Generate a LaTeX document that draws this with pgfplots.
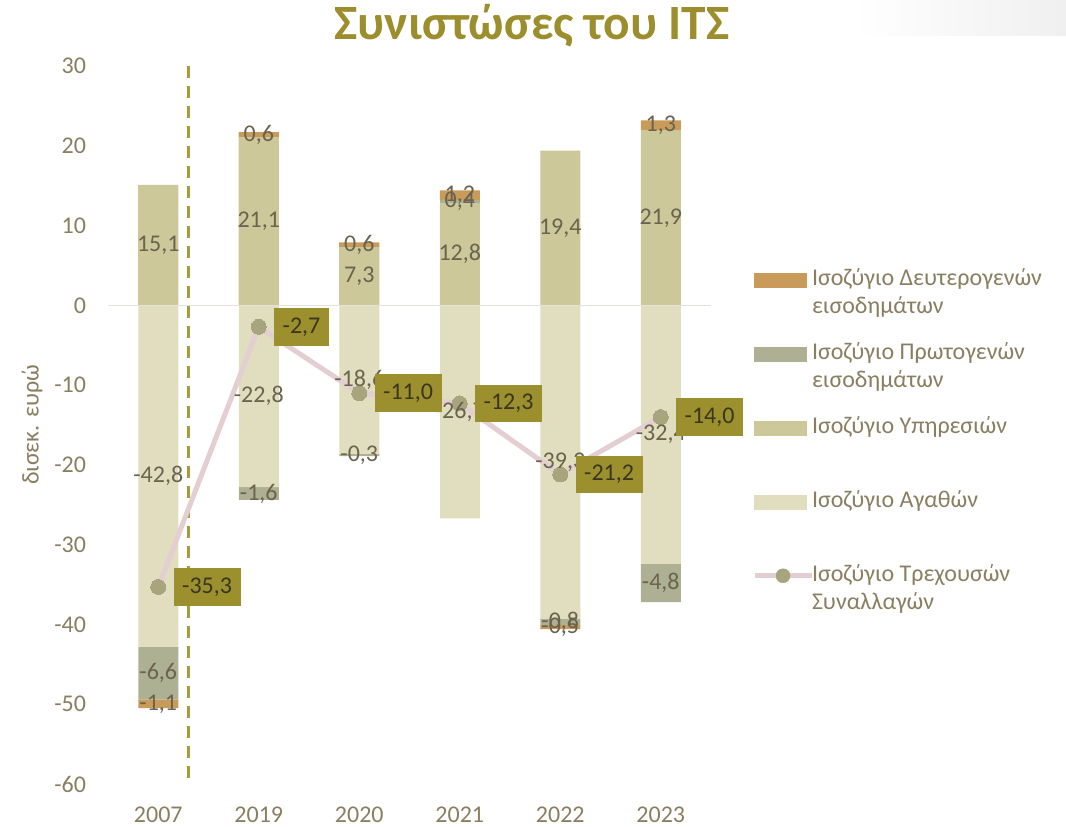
\documentclass[border=0pt]{standalone}
\usepackage{fontspec}
\setmainfont{Carlito}
\usepackage{pgfplots}
\pgfplotsset{compat=1.18}
\definecolor{secondary}{HTML}{C89B5B}
\definecolor{primary}{HTML}{ADB093}
\definecolor{services}{HTML}{CCC899}
\definecolor{goods}{HTML}{E1DDBF}
\definecolor{linepink}{HTML}{E3CED2}
\definecolor{markercol}{HTML}{A8A47E}
\definecolor{boxcol}{HTML}{9C8F2E}
\definecolor{boxtext}{HTML}{3A3620}
\definecolor{labeltext}{HTML}{6A644F}
\definecolor{ticktext}{HTML}{8A7E60}
\definecolor{titlecol}{HTML}{9C8E2C}
\definecolor{dashcol}{HTML}{A59B3A}
\definecolor{zerocol}{HTML}{E4E2DB}
\newcommand{\lfont}{\fontsize{18}{20.5}\selectfont}
\pgfplotsset{base/.style={
  scale only axis, width=452.25pt, height=538.5pt,
  xmin=-0.5, xmax=5.5, ymin=-60, ymax=30,
  at={(81pt,-588pt)}, anchor=south west,
  bar width=30pt,
}}
\begin{document}
\begin{tikzpicture}
\useasboundingbox (0,0) rectangle (799.5pt,-620.25pt);
\shade[left color=white, right color=black!6] (640pt,0pt) rectangle (799.5pt,-27pt);
\node[font=\fontsize{37}{44}\selectfont\bfseries, text=titlecol] at (399pt,-19.5pt) {Συνιστώσες του ΙΤΣ};
% positives
\begin{axis}[base, ybar stacked,
  axis line style={draw=none}, tick style={draw=none},
  xtick={0,1,2,3,4,5}, xticklabels={2007,2019,2020,2021,2022,2023},
  ytick={-60,-50,-40,-30,-20,-10,0,10,20,30},
  /pgf/number format/assume math mode=true,
  ticklabel style={font=\lfont, text=ticktext},
  yticklabel style={xshift=-13pt},
  xticklabel style={yshift=-14pt},
  ylabel={δισεκ. ευρώ},
  ylabel style={at={(axis description cs:-0.126,0.5)}, anchor=center, font=\lfont, text=ticktext},
]
\addplot[fill=services, draw=none] coordinates {(0,15.1)(1,21.1)(2,7.3)(3,12.8)(4,19.4)(5,21.9)};
\addplot[fill=primary, draw=none] coordinates {(0,0)(1,0)(2,0)(3,0.4)(4,0)(5,0)};
\addplot[fill=secondary, draw=none] coordinates {(0,0)(1,0.6)(2,0.6)(3,1.2)(4,0)(5,1.3)};
\end{axis}
% negatives
\begin{axis}[base, ybar stacked, hide axis]
\addplot[fill=goods, draw=none] coordinates {(0,-42.8)(1,-22.8)(2,-18.6)(3,-26.7)(4,-39.3)(5,-32.4)};
\addplot[fill=primary, draw=none] coordinates {(0,-6.6)(1,-1.6)(2,-0.3)(3,0)(4,-0.8)(5,-4.8)};
\addplot[fill=secondary, draw=none] coordinates {(0,-1.1)(1,0)(2,0)(3,0)(4,-0.5)(5,0)};
\end{axis}
% lines, labels, legend
\begin{axis}[base, hide axis, clip=false,
  legend style={draw=none, fill=none, inner sep=0pt, outer sep=0pt,
    at={(axis description cs:1.068,0.719)}, anchor=north west,
    row sep=17pt, font=\lfont, text=ticktext,
    cells={anchor=base west},
    nodes={inner xsep=-1.5pt, inner ysep=0pt, text height=13.5pt, text depth=25pt}},
]
\addplot[forget plot, zerocol, line width=1.2pt] coordinates {(-0.5,0)(5.5,0)};
\addplot[forget plot, dashcol, line width=2.2pt, dash pattern=on 9pt off 6pt] coordinates {(0.3,30)(0.3,-60)};
\addplot[forget plot, linepink, line width=3.75pt, line join=round, mark=*, mark size=5.6pt,
  mark options={fill=markercol, draw=markercol, line width=0pt}]
  coordinates {(0,-35.3)(1,-2.7)(2,-11.0)(3,-12.3)(4,-21.2)(5,-14.0)};
\addplot[forget plot, only marks, mark=none, nodes near coords, point meta=explicit symbolic,
  nodes near coords style={anchor=center, font=\lfont, text=labeltext, inner sep=0pt}]
  coordinates {
  (0,7.55)[15{,}1]
  (1,10.55)[21{,}1] (1,21.4)[0{,}6]
  (2,3.65)[7{,}3] (2,7.6)[0{,}6]
  (3,6.4)[12{,}8] (3,13.0)[0{,}4] (3,13.8)[1{,}2]
  (4,9.7)[19{,}4]
  (5,10.95)[21{,}9] (5,22.55)[1{,}3]
  (0,-21.4)[-42{,}8] (0,-46.1)[-6{,}6] (0,-49.95)[-1{,}1]
  (1,-11.4)[-22{,}8] (1,-23.6)[-1{,}6]
  (2,-9.3)[-18{,}6] (2,-18.75)[-0{,}3]
  (3,-13.35)[-26{,}7]
  (4,-19.65)[-39{,}3] (4,-39.7)[-0{,}8] (4,-40.35)[-0{,}5]
  (5,-16.2)[-32{,}4] (5,-34.8)[-4{,}8]
  };
\addplot[forget plot, only marks, mark=none, nodes near coords, point meta=explicit symbolic,
  nodes near coords style={anchor=west, xshift=11.25pt, font=\lfont, text=boxtext,
    fill=boxcol, inner xsep=6.5pt, inner ysep=0pt, minimum height=28pt}]
  coordinates {(0,-35.3)[-35{,}3] (1,-2.7)[-2{,}7] (2,-11.0)[-11{,}0] (3,-12.3)[-12{,}3] (4,-21.2)[-21{,}2] (5,-14.0)[-14{,}0]};
\addlegendimage{legend image code/.code={\fill[secondary] (0pt,-0.75pt) rectangle (39pt,9.75pt);}}
\addlegendentry{\begin{tabular}[t]{@{}l@{}}Ισοζύγιο Δευτερογενών\\εισοδημάτων\end{tabular}}
\addlegendimage{legend image code/.code={\fill[primary] (0pt,-0.75pt) rectangle (39pt,9.75pt);}}
\addlegendentry{\begin{tabular}[t]{@{}l@{}}Ισοζύγιο Πρωτογενών\\εισοδημάτων\end{tabular}}
\addlegendimage{legend image code/.code={\fill[services] (0pt,-0.75pt) rectangle (39pt,9.75pt);}}
\addlegendentry{Ισοζύγιο Υπηρεσιών}
\addlegendimage{legend image code/.code={\fill[goods] (0pt,-0.75pt) rectangle (39pt,9.75pt);}}
\addlegendentry{Ισοζύγιο Αγαθών}
\addlegendimage{legend image code/.code={\draw[linepink, line width=3.75pt] (0pt,4.5pt) -- (42.75pt,4.5pt); \fill[markercol] (21.4pt,4.5pt) circle (5.25pt);}}
\addlegendentry{\begin{tabular}[t]{@{}l@{}}Ισοζύγιο Τρεχουσών\\Συναλλαγών\end{tabular}}
\end{axis}
\end{tikzpicture}
\end{document}
